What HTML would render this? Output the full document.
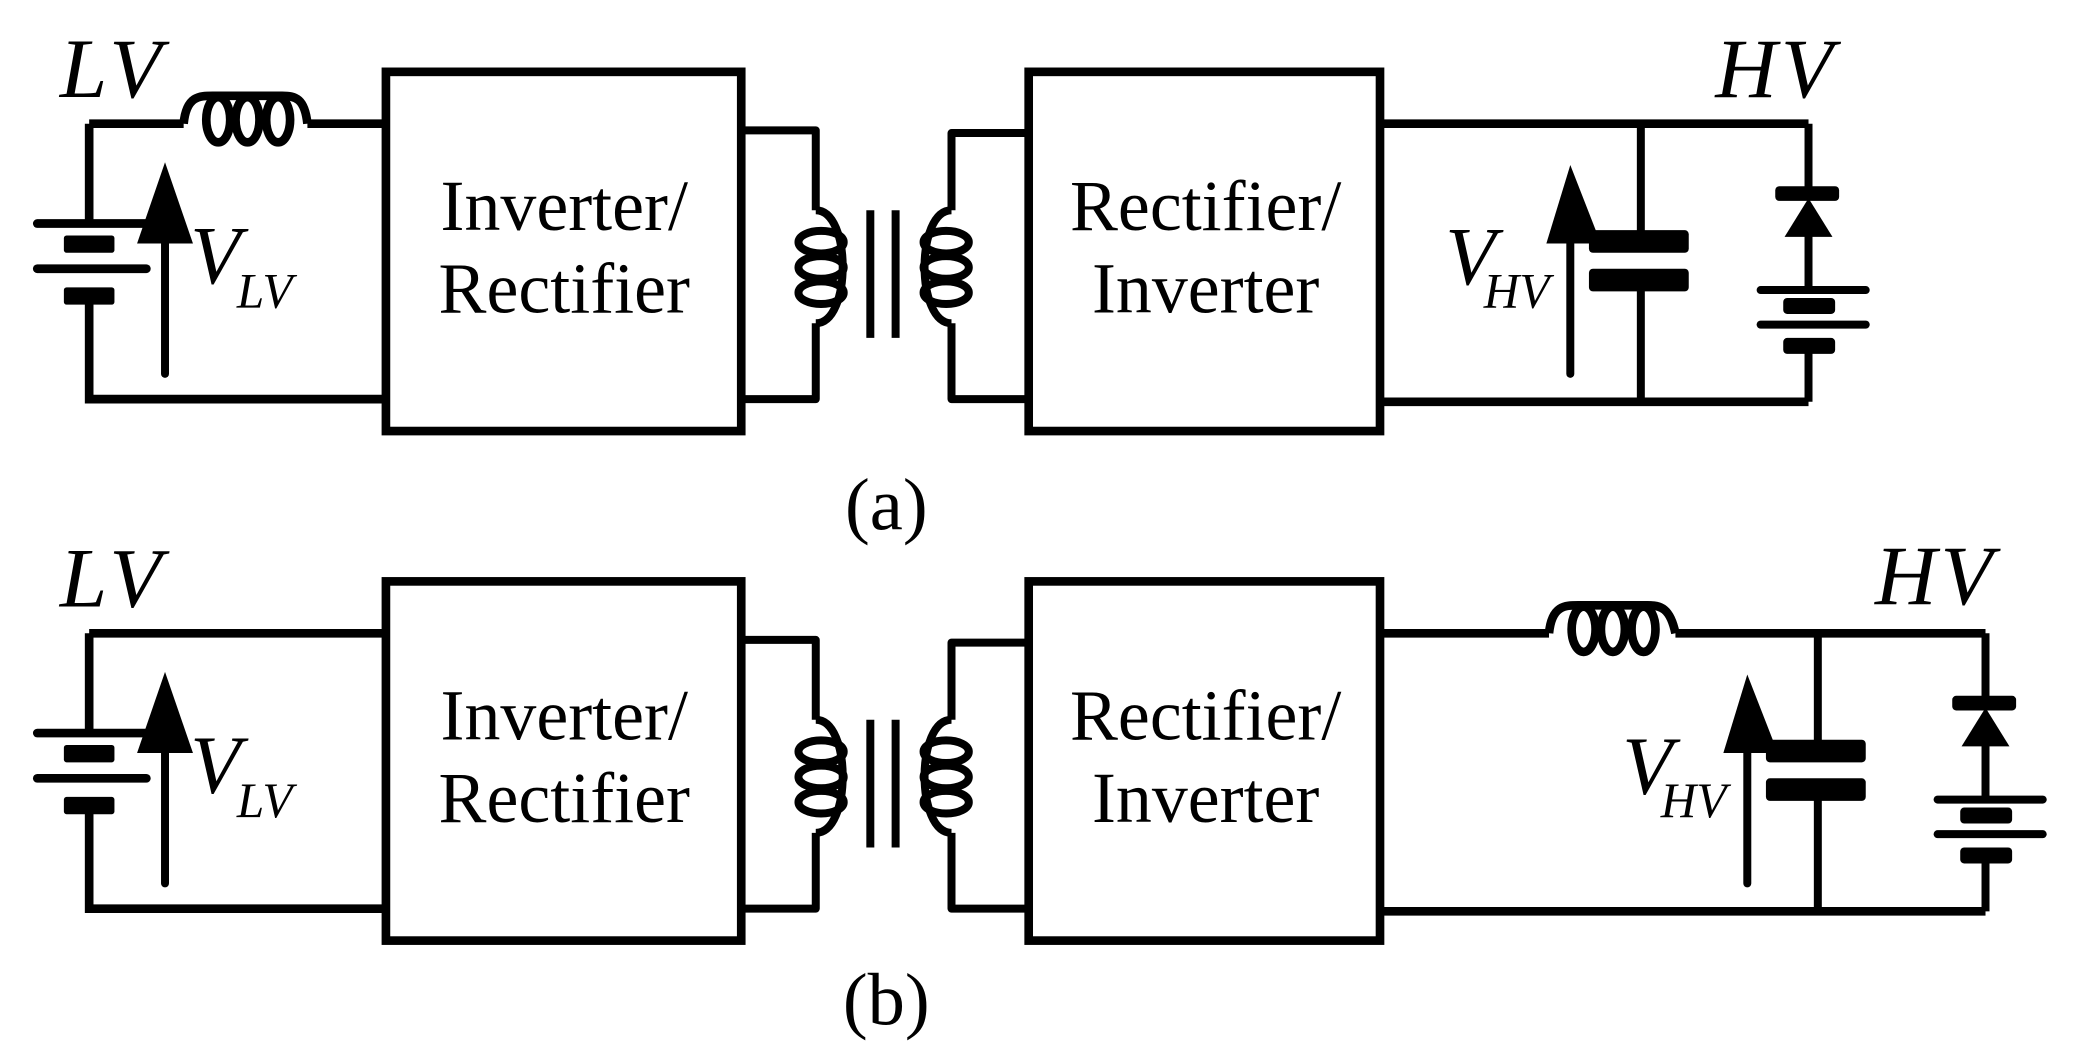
<!DOCTYPE html>
<html><head><meta charset="utf-8"><style>
html,body{margin:0;padding:0;background:#fff;}
svg{display:block;}
text{font-family:"Liberation Serif",serif;fill:#000;}
</style></head><body>
<svg width="2076" height="1063" viewBox="0 0 1560 799" preserveAspectRatio="none" xmlns="http://www.w3.org/2000/svg">
<defs>
<g id="xfmr" fill="none" stroke="#000" stroke-width="6" stroke-linejoin="round">
  <polyline points="557,98 613,98 613,158"/>
  <path d="M613,158 C640,158 640,243 613,243"/>
  <polyline points="613,243 613,300 557,300"/>
  <ellipse cx="617" cy="182" rx="17" ry="8.5"/>
  <ellipse cx="617" cy="201" rx="17" ry="8.5"/>
  <ellipse cx="617" cy="220" rx="17" ry="8.5"/>
  <line x1="654" y1="158" x2="654" y2="254"/>
  <line x1="673" y1="158" x2="673" y2="254"/>
  <polyline points="775,100 715,100 715,158"/>
  <path d="M715,158 C688,158 688,243 715,243"/>
  <polyline points="715,243 715,300 775,300"/>
  <ellipse cx="711" cy="182" rx="17" ry="8.5"/>
  <ellipse cx="711" cy="201" rx="17" ry="8.5"/>
  <ellipse cx="711" cy="220" rx="17" ry="8.5"/>
</g>
<g id="boxes">
  <rect x="290" y="54" width="267" height="270" fill="none" stroke="#000" stroke-width="6.5"/>
  <rect x="773" y="54" width="264" height="270" fill="none" stroke="#000" stroke-width="6.5"/>
  <text x="424" y="173" font-size="54" text-anchor="middle">Inverter/</text>
  <text x="424" y="235" font-size="54" text-anchor="middle">Rectifier</text>
  <text x="906" y="173" font-size="54" text-anchor="middle">Rectifier/</text>
  <text x="906" y="235" font-size="54" text-anchor="middle">Inverter</text>
</g>
<g id="lvside">
  <polyline points="67,168 67,93" fill="none" stroke="#000" stroke-width="6.5"/>
  <polyline points="67,228 67,300 290,300" fill="none" stroke="#000" stroke-width="6.5"/>
  <line x1="28" y1="168" x2="110" y2="168" stroke="#000" stroke-width="6.5" stroke-linecap="round"/>
  <rect x="48" y="177" width="38" height="13" rx="2"/>
  <line x1="28" y1="202" x2="110" y2="202" stroke="#000" stroke-width="6.5" stroke-linecap="round"/>
  <rect x="48" y="216" width="38" height="13" rx="2"/>
  <line x1="124" y1="180" x2="124" y2="281" stroke="#000" stroke-width="6" stroke-linecap="round"/>
  <polygon points="124,122 103,183 145,183"/>
  <text x="143" y="213" font-size="62" font-style="italic">V</text>
  <text x="178" y="231" font-size="37" font-style="italic">LV</text>
  <text x="45" y="73" font-size="64" font-style="italic" letter-spacing="4">LV</text>
</g>
<g id="hvright">
  <line x1="1233" y1="93" x2="1233" y2="175" stroke="#000" stroke-width="6"/>
  <line x1="1233" y1="210" x2="1233" y2="302" stroke="#000" stroke-width="6"/>
  <rect x="1194" y="173" width="75" height="17" rx="3"/>
  <rect x="1194" y="202" width="75" height="17" rx="3"/>
  <line x1="1180" y1="180" x2="1180" y2="281" stroke="#000" stroke-width="6" stroke-linecap="round"/>
  <polygon points="1180,124 1162,183 1203,183"/>
  <text x="1086" y="214" font-size="62" font-style="italic">V</text>
  <text x="1115" y="231" font-size="37" font-style="italic">HV</text>
  <line x1="1359" y1="93" x2="1359" y2="145" stroke="#000" stroke-width="6"/>
  <rect x="1334" y="140" width="48" height="11" rx="3"/>
  <polygon points="1359,149 1341,178 1377,178"/>
  <line x1="1359" y1="176" x2="1359" y2="220" stroke="#000" stroke-width="6"/>
  <line x1="1323" y1="218" x2="1402" y2="218" stroke="#000" stroke-width="6" stroke-linecap="round"/>
  <rect x="1340" y="224" width="39" height="12" rx="3"/>
  <line x1="1323" y1="244" x2="1402" y2="244" stroke="#000" stroke-width="6" stroke-linecap="round"/>
  <rect x="1340" y="254" width="39" height="12" rx="3"/>
  <line x1="1359" y1="264" x2="1359" y2="302" stroke="#000" stroke-width="6"/>
</g>
</defs>

<!-- Panel (a) -->
<use href="#boxes"/>
<use href="#xfmr"/>
<use href="#lvside"/>
<g fill="none" stroke="#000" stroke-width="6.5" stroke-linejoin="round">
  <polyline points="67,93 138,93"/>
  <path d="M138,93 C140,72 150,72 160,72 L212,72 C222,72 229,74 231,93"/>
  <polyline points="231,93 290,93"/>
  <ellipse cx="164" cy="90" rx="9" ry="17"/>
  <ellipse cx="186" cy="90" rx="9" ry="17"/>
  <ellipse cx="209" cy="90" rx="9" ry="17"/>
  <polyline points="1037,93 1359,93"/>
  <polyline points="1037,302 1359,302"/>
</g>
<use href="#hvright"/>
<text x="1289" y="73" font-size="64" font-style="italic" letter-spacing="3">HV</text>
<text x="666" y="398" font-size="56" text-anchor="middle">(a)</text>

<!-- Panel (b) -->
<g transform="translate(0,383)">
  <use href="#boxes"/>
  <use href="#xfmr"/>
  <use href="#lvside"/>
  <polyline points="67,93 290,93" fill="none" stroke="#000" stroke-width="6.5"/>
  <g fill="none" stroke="#000" stroke-width="6.5" stroke-linejoin="round">
    <polyline points="1037,93 1164,93"/>
    <path d="M1164,93 C1166,72 1176,72 1186,72 L1238,72 C1248,72 1255,74 1259,93"/>
    <polyline points="1259,93 1492,93"/>
    <ellipse cx="1190" cy="90" rx="9" ry="17"/>
    <ellipse cx="1212" cy="90" rx="9" ry="17"/>
    <ellipse cx="1235" cy="90" rx="9" ry="17"/>
    <polyline points="1037,302 1492,302"/>
  </g>
  <g transform="translate(133,0)"><use href="#hvright"/></g>
  <text x="1409" y="71" font-size="64" font-style="italic" letter-spacing="3">HV</text>
  <text x="666" y="387" font-size="56" text-anchor="middle">(b)</text>
</g>
</svg>
</body></html>
